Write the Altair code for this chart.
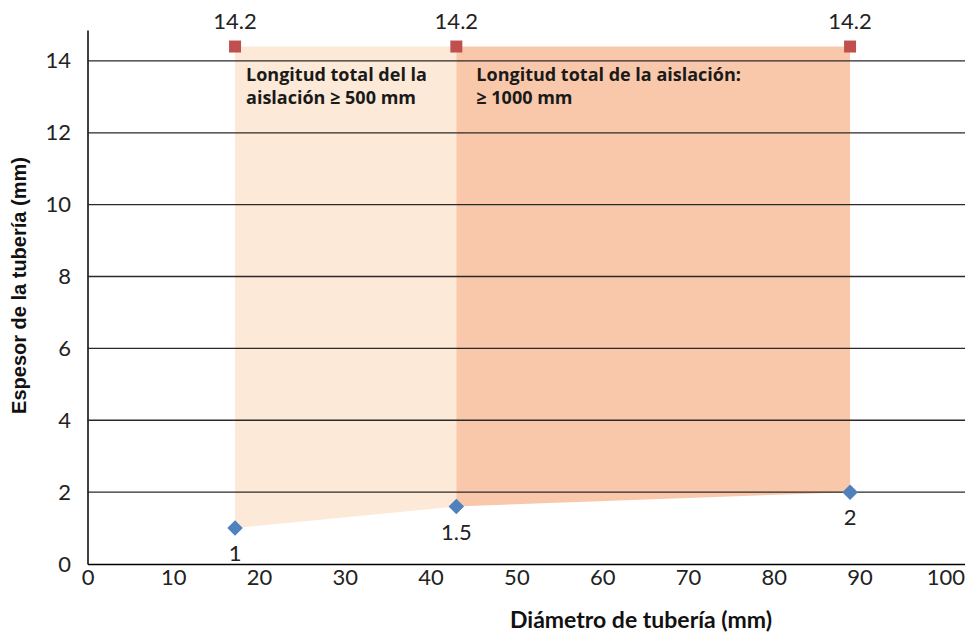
import altair as alt
import pandas as pd

# ---- data ----
diameters = [17.2, 43.0, 88.9]          # Diámetro de tubería (mm)
thickness = [1.0, 1.6, 2.0]             # plotted position of the blue points
thickness_labels = ["1", "1.5", "2"]    # their data labels
top_values = [14.4, 14.4, 14.4]         # plotted position of the red points
top_labels = ["14.2", "14.2", "14.2"]   # their data labels
zone_names = ["≥ 500 mm", "≥ 1000 mm"]
zone_texts = [["Longitud total del la", "aislación ≥ 500 mm"],
              ["Longitud total de la aislación:", "≥ 1000 mm"]]
zone_colors = ["#FDE9D7", "#F9C7AA"]
x_ticks = list(range(0, 101, 10))
y_ticks = list(range(0, 15, 2))

# ---- tables built from the arrays ----
area_rows = []
for z in range(2):
    for i in (z, z + 1):
        area_rows.append({"zone": zone_names[z], "x": diameters[i],
                          "lo": thickness[i], "hi": top_values[i]})
area_df = pd.DataFrame(area_rows)

pts = pd.DataFrame({"x": diameters, "y": thickness, "lab": thickness_labels,
                    "top": top_values, "toplab": top_labels})
grid_df = pd.DataFrame({"y": [v for v in y_ticks if v > 0]})

W, H = 877.5, 534
xs = alt.Scale(domain=[0, 102.3], nice=False, zero=False)
ys = alt.Scale(domain=[0, 14.86], nice=False, zero=False)

x_axis = alt.Axis(values=x_ticks, grid=False, ticks=False, labelPadding=3,
                  labelFlush=False, labelOverlap=False,
                  domainColor="#000", domainWidth=1.5,
                  labelFont="Lato", labelFontSize=22, labelColor="#222",
                  title="Diámetro de tubería (mm)", titleFont="Lato",
                  titleFontSize=23, titleFontWeight="bold", titleColor="#111",
                  titleX=553, titleY=63, titleBaseline="alphabetic",
                  titleAlign="center", titleAnchor="middle")
y_axis = alt.Axis(values=y_ticks, grid=False, ticks=False, labelPadding=17,
                  labelFlush=False, labelOverlap=False,
                  domainColor="#000", domainWidth=1.5,
                  labelFont="Lato", labelFontSize=22, labelColor="#222",
                  title="Espesor de la tubería (mm)", titleFont="Liberation Sans",
                  titleFontSize=20, titleFontWeight="bold", titleColor="#111",
                  titleAngle=270, titleX=-68, titleY=255,
                  titleBaseline="middle", titleAlign="center")

areas = alt.Chart(area_df).mark_area(opacity=1).encode(
    x=alt.X("x:Q", scale=xs, axis=x_axis),
    y=alt.Y("lo:Q", scale=ys, axis=y_axis),
    y2="hi:Q",
    color=alt.Color("zone:N", scale=alt.Scale(domain=zone_names, range=zone_colors),
                    legend=None),
)

grid = alt.Chart(grid_df).mark_rule(color="#2a2a2a", strokeWidth=1.3).encode(
    y=alt.Y("y:Q", scale=ys)
)

blue = alt.Chart(pts).mark_point(shape="diamond", filled=True, size=240,
                                 color="#4F81BD", opacity=1).encode(
    x=alt.X("x:Q", scale=xs), y=alt.Y("y:Q", scale=ys))
red = alt.Chart(pts).mark_point(shape="square", filled=True, size=144,
                                color="#C0504D", opacity=1).encode(
    x=alt.X("x:Q", scale=xs), y=alt.Y("top:Q", scale=ys))

blue_lab = alt.Chart(pts).mark_text(font="Lato", fontSize=22, color="#222",
                                    baseline="alphabetic", dy=33).encode(
    x=alt.X("x:Q", scale=xs), y=alt.Y("y:Q", scale=ys), text="lab:N")
red_lab = alt.Chart(pts).mark_text(font="Lato", fontSize=22, color="#222",
                                   baseline="alphabetic", dy=-18).encode(
    x=alt.X("x:Q", scale=xs), y=alt.Y("top:Q", scale=ys), text="toplab:N")

zone_layers = []
for z, ddx in zip(range(2), [11, 20]):
    zdf = pd.DataFrame({"x": [diameters[z]], "y": [top_values[z]],
                        "t": [zone_texts[z]]})
    zone_layers.append(
        alt.Chart(zdf).mark_text(font="Open Sans", fontSize=18, fontWeight="bold",
                                 color="#1a1a1a", align="left",
                                 baseline="alphabetic", dx=ddx, dy=34,
                                 lineHeight=23).encode(
            x=alt.X("x:Q", scale=xs), y=alt.Y("y:Q", scale=ys), text="t")
    )

chart = alt.layer(areas, grid, *zone_layers, blue, red, blue_lab, red_lab).properties(
    width=W, height=H,
    autosize=alt.AutoSizeParams(type="none"),
    padding={"left": 79.5, "top": 22, "right": 0, "bottom": 68},
).configure_view(stroke=None)

chart.save("out.html", embed_options={"renderer": "svg", "actions": False})
